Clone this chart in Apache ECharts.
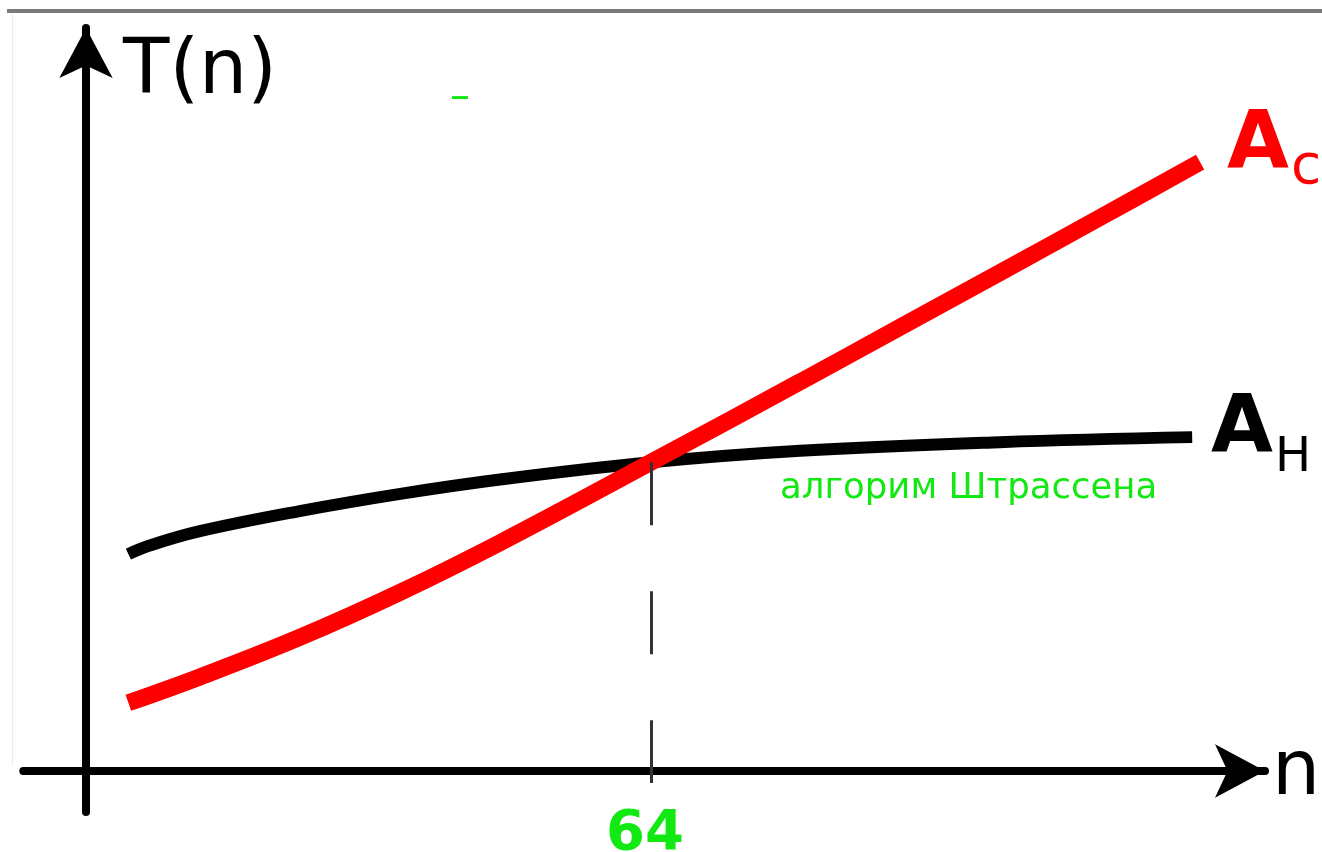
<!DOCTYPE html>
<html>
<head>
<meta charset="utf-8">
<script src="https://cdn.jsdelivr.net/npm/echarts@6/dist/echarts.min.js"></script>
<style>
  html, body { margin: 0; padding: 0; background: #ffffff; }
  #chart { width: 1322px; height: 852px; }
</style>
</head>
<body>
<div id="chart"></div>
<script>
// ---- data ----
const acN = [4.8, 12.9, 24.2, 35.6, 46.9, 64, 80.9, 92.2, 103.5, 114.9, 126.2];
const acT = [9.5, 13.1, 18.6, 24.9, 31.8, 43.0, 54.2, 61.8, 69.4, 77.1, 84.8];
const ahN = [4.8, 7.2, 12.9, 24.2, 35.6, 46.9, 64, 80.9, 103.5, 125.3];
const ahT = [30.2, 31.4, 33.4, 36.2, 38.6, 40.6, 43.0, 44.6, 45.8, 46.5];
const crossoverN = 64;
const crossoverT = 43.0;
const tickLabels = [64];
const axisNames = { x: 'n', y: 'T(n)' };
const seriesNames = { ac: 'c', ah: 'H' };
const noteText = 'алгорим Штрассена';

const FONT = "'DejaVu Sans', sans-serif";
const GREEN = '#12e812';

function pairs(xs, ys) { return xs.map((x, i) => [x, ys[i]]); }

const chart = echarts.init(document.getElementById('chart'), null, { renderer: 'canvas' });

const staticGraphics = [
  { type: 'rect', shape: { x: 7, y: 9, width: 1315, height: 4 }, style: { fill: '#7a7a7a' }, silent: true },
  { type: 'rect', shape: { x: 12, y: 13, width: 1, height: 752 }, style: { fill: '#ececec' }, silent: true },
  { type: 'text', style: { text: axisNames.y, x: 123, y: 73.5, font: '76px ' + FONT, fill: '#000', textAlign: 'left', textVerticalAlign: 'middle' } },
  { type: 'text', style: { text: axisNames.x, x: 1272, y: 774, font: '76px ' + FONT, fill: '#000', textAlign: 'left', textVerticalAlign: 'middle' } },
  { type: 'text', style: { text: 'A', x: 1258, y: 147, font: 'bold 80px ' + FONT, fill: '#ff0000', textAlign: 'center', textVerticalAlign: 'middle' } },
  { type: 'text', style: { text: seriesNames.ac, x: 1291, y: 169, font: '55px ' + FONT, fill: '#ff0000', textAlign: 'left', textVerticalAlign: 'middle' } },
  { type: 'text', style: { text: 'A', x: 1242, y: 431.4, font: 'bold 80px ' + FONT, fill: '#000', textAlign: 'center', textVerticalAlign: 'middle' } },
  { type: 'text', style: { text: seriesNames.ah, x: 1275, y: 458.5, font: '48px ' + FONT, fill: '#000', textAlign: 'left', textVerticalAlign: 'middle' } },
  { type: 'text', style: { text: noteText, x: 780, y: 488.5, font: '35.5px ' + FONT, fill: GREEN, textAlign: 'left', textVerticalAlign: 'middle' } },
  { type: 'text', style: { text: '–', x: 450, y: 99, font: '40px ' + FONT, fill: GREEN, textAlign: 'left', textVerticalAlign: 'middle' } }
];

chart.setOption({
  animation: false,
  backgroundColor: '#ffffff',
  grid: {
    left: 23.32, top: 28, width: 1241.68, height: 783.93,
    containLabel: false, outerBoundsMode: 'none'
  },
  xAxis: {
    type: 'value', min: -7.1, max: 133.55,
    splitLine: { show: false },
    axisLine: {
      onZero: true,
      symbol: ['none', 'arrow'], symbolSize: [40, 50],
      lineStyle: { color: '#000', width: 8 }
    },
    axisTick: { show: false },
    axisLabel: { show: false }
  },
  yAxis: {
    type: 'value', min: -5.7, max: 103.48,
    splitLine: { show: false },
    axisLine: {
      onZero: true,
      symbol: ['none', 'arrow'], symbolSize: [40, 50],
      lineStyle: { color: '#000', width: 8 }
    },
    axisTick: { show: false },
    axisLabel: { show: false }
  },
  series: [
    {
      name: 'AH', type: 'line', data: pairs(ahN, ahT), smooth: 0.4,
      symbol: 'none', lineStyle: { color: '#000', width: 12, cap: 'butt' }, z: 2
    },
    {
      name: 'Ac', type: 'line', data: pairs(acN, acT), smooth: 0.4,
      symbol: 'none', lineStyle: { color: '#ff0000', width: 17, cap: 'butt' }, z: 3,
      markLine: {
        silent: true, symbol: 'none', label: { show: false },
        lineStyle: { color: '#333', width: 3, type: [63, 66] },
        data: [[{ coord: [crossoverN, crossoverT] }, { coord: [crossoverN, -1.67] }]]
      }
    }
  ],
  graphic: staticGraphics
});

// tick label placed at the data position of its value on the x axis
const tickGraphics = tickLabels.map(v => ({
  type: 'text',
  style: {
    text: String(v),
    x: chart.convertToPixel({ xAxisIndex: 0 }, v) - 6,
    y: 834,
    font: 'bold 56px ' + FONT, fill: GREEN,
    textAlign: 'center', textVerticalAlign: 'middle'
  }
}));
chart.setOption({ graphic: staticGraphics.concat(tickGraphics) });
</script>
</body>
</html>
